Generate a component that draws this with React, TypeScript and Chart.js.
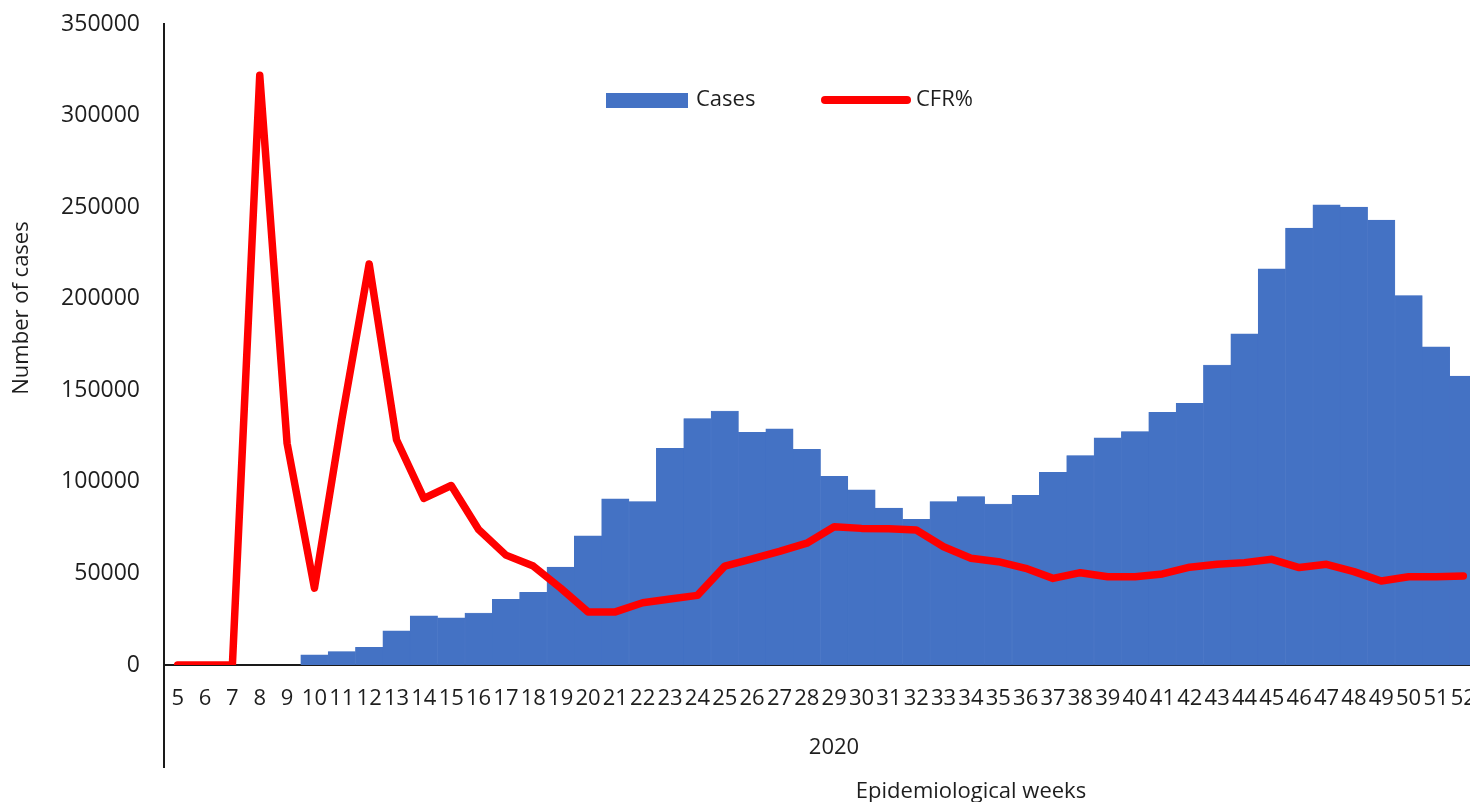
import React, { useEffect, useRef } from "react";
import { Chart, registerables } from "chart.js";

Chart.register(...registerables);

const weeks: string[] = [
  "5","6","7","8","9","10","11","12","13","14","15","16","17","18","19","20",
  "21","22","23","24","25","26","27","28","29","30","31","32","33","34","35","36",
  "37","38","39","40","41","42","43","44","45","46","47","48","49","50","51","52",
];

const cases: number[] = [
  0, 0, 0, 0, 0, 5500, 7300, 9700, 18700, 26900, 25700, 28400, 35900, 39700, 53400, 70500,
  90700, 89200, 118300, 134500, 138700, 127100, 128900, 117800, 103000, 95600, 85700, 79600, 89200, 91900, 87900, 92700,
  105200, 114300, 124100, 127400, 138000, 142900, 163800, 180800, 216300, 238500, 251200, 250000, 242900, 201700, 173700, 157700,
];

const cfr: number[] = [
  0, 0, 0, 32.2, 12.1, 4.2, 13.4, 21.9, 12.3, 9.1, 9.8, 7.4, 6.0, 5.4, 4.2, 2.9,
  2.9, 3.4, 3.6, 3.8, 5.4, 5.8, 6.2, 6.65, 7.55, 7.46, 7.44, 7.37, 6.46, 5.83, 5.64, 5.28,
  4.73, 5.04, 4.82, 4.82, 4.97, 5.34, 5.5, 5.59, 5.77, 5.32, 5.5, 5.1, 4.59, 4.82, 4.82, 4.86,
];

const yTicks: number[] = [0, 50000, 100000, 150000, 200000, 250000, 300000, 350000];

const FONT = "'Open Sans', 'Liberation Sans', sans-serif";
const TEXT = "#1e1e1e";
const BLUE = "#4472C4";
const RED = "#FF0000";

const overlay = {
  id: "overlay",
  afterDraw(chart: any) {
    const ctx = chart.ctx as CanvasRenderingContext2D;
    const area = chart.chartArea;
    ctx.save();
    ctx.strokeStyle = "#1a1a1a";
    ctx.lineWidth = 2;
    ctx.beginPath();
    ctx.moveTo(area.left, area.bottom);
    ctx.lineTo(area.left, 768);
    ctx.stroke();

    ctx.fillStyle = TEXT;
    ctx.font = `22px ${FONT}`;
    ctx.textBaseline = "middle";
    ctx.textAlign = "center";
    ctx.fillText("2020", 834, 748);
    ctx.fillText("Epidemiological weeks", 971, 792);

    ctx.save();
    ctx.translate(22, 308);
    ctx.rotate(-Math.PI / 2);
    ctx.fillText("Number of cases", 0, 0);
    ctx.restore();

    ctx.fillStyle = BLUE;
    ctx.fillRect(606, 93, 82, 15);
    ctx.fillStyle = TEXT;
    ctx.textAlign = "left";
    ctx.fillText("Cases", 696, 100);
    ctx.strokeStyle = RED;
    ctx.lineWidth = 8;
    ctx.lineCap = "round";
    ctx.beginPath();
    ctx.moveTo(825, 100);
    ctx.lineTo(907, 100);
    ctx.stroke();
    ctx.fillText("CFR%", 916, 100);
    ctx.restore();
  },
};

export default function App() {
  const ref = useRef<HTMLCanvasElement>(null);
  useEffect(() => {
    if (!ref.current) return;
    const chart = new Chart(ref.current, {
      type: "bar",
      data: {
        labels: weeks,
        datasets: [
          {
            type: "line",
            label: "CFR%",
            data: cfr,
            yAxisID: "y1",
            borderColor: RED,
            backgroundColor: RED,
            borderWidth: 7.5,
            pointRadius: 0,
            tension: 0,
            borderJoinStyle: "round",
            borderCapStyle: "round",
            order: 0,
          } as any,
          {
            type: "bar",
            label: "Cases",
            data: cases,
            yAxisID: "y",
            backgroundColor: BLUE,
            borderColor: BLUE,
            borderWidth: 0.5,
            barPercentage: 1,
            categoryPercentage: 1,
            order: 1,
          } as any,
        ],
      },
      plugins: [overlay],
      options: {
        responsive: false,
        animation: false,
        devicePixelRatio: 1,
        layout: { padding: { left: 0, top: 24, right: 13, bottom: 0 } },
        plugins: { legend: { display: false }, tooltip: { enabled: false } },
        scales: {
          x: {
            grid: { display: false, drawTicks: false },
            border: { display: true, color: "#1a1a1a", width: 2 },
            ticks: {
              autoSkip: false,
              maxRotation: 0,
              minRotation: 0,
              padding: 21,
              color: TEXT,
              font: { family: FONT, size: 22 },
            },
            afterFit: (s: any) => {
              s.height = 137;
              s.paddingLeft = 0;
              s.paddingRight = 0;
            },
          },
          y: {
            min: 0,
            max: 350000,
            grid: { display: false, drawTicks: false },
            border: { display: true, color: "#1a1a1a", width: 2 },
            afterBuildTicks: (s: any) => {
              s.ticks = yTicks.map((v) => ({ value: v }));
            },
            ticks: {
              padding: 24,
              color: TEXT,
              font: { family: FONT, size: 23 },
              callback: (v: any) => String(v),
            },
            afterFit: (s: any) => {
              s.width = 164;
              s.paddingTop = 0;
              s.paddingBottom = 0;
            },
          },
          y1: {
            display: false,
            min: 0,
            max: 35,
          },
        },
      },
    });
    return () => chart.destroy();
  }, []);
  return (
    <div
      style={{
        position: "fixed",
        left: 0,
        top: 0,
        width: 1470,
        height: 802,
        overflow: "hidden",
        background: "#fff",
      }}
    >
      <canvas ref={ref} width={1490} height={802} style={{ width: 1490, height: 802 }} />
    </div>
  );
}
